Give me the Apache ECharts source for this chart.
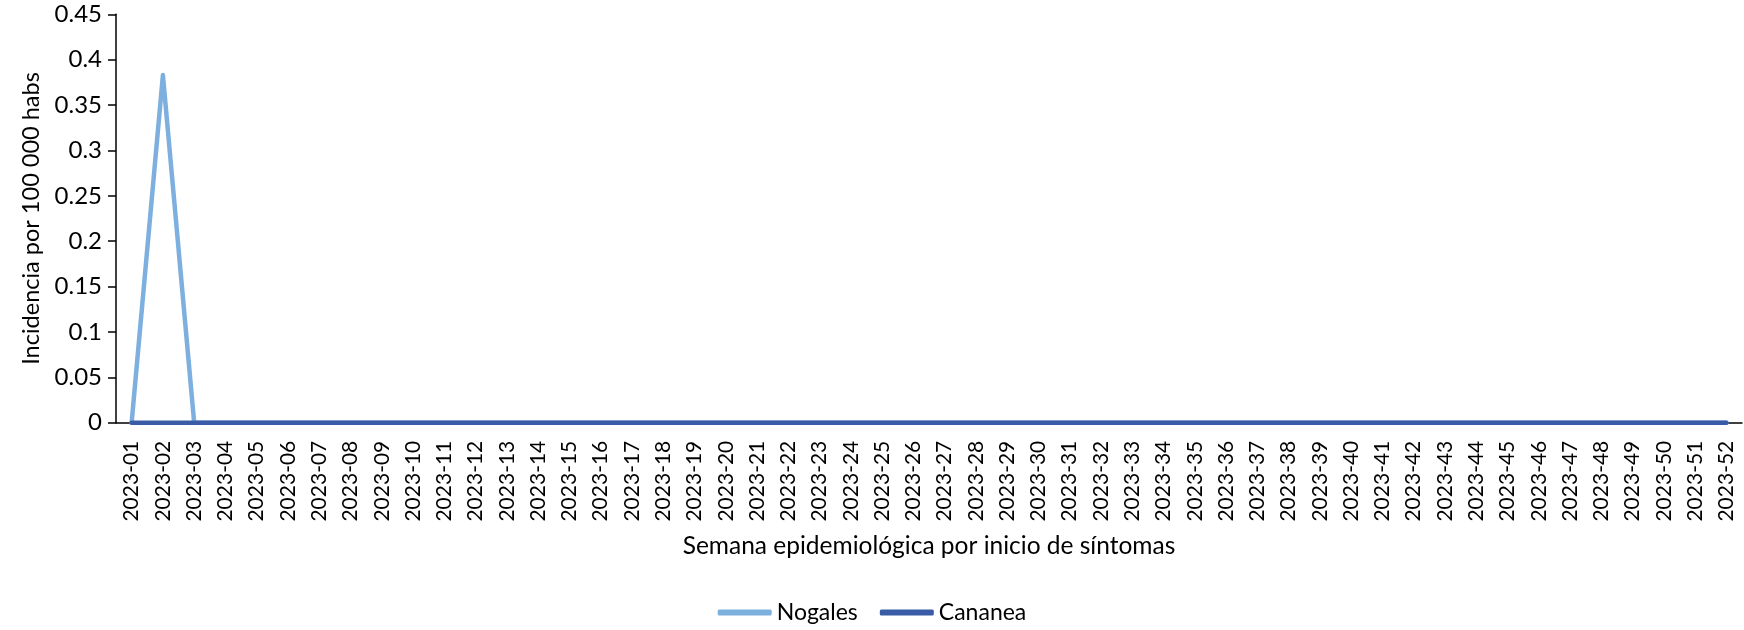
<!DOCTYPE html>
<html>
<head>
<meta charset="utf-8">
<script src="https://cdn.jsdelivr.net/npm/echarts@6/dist/echarts.min.js"></script>
<style>
html,body{margin:0;padding:0;background:#fff;}
#chart{width:1744px;height:630px;}
</style>
</head>
<body>
<div id="chart"></div>
<script>
const weeks = [];
for (let i = 1; i <= 52; i++) weeks.push('2023-' + (i < 10 ? '0' + i : '' + i));
const nogales = [0, 0.383, 0, 0, 0, 0, 0, 0, 0, 0, 0, 0, 0, 0, 0, 0, 0, 0, 0, 0, 0, 0, 0, 0, 0, 0,
                 0, 0, 0, 0, 0, 0, 0, 0, 0, 0, 0, 0, 0, 0, 0, 0, 0, 0, 0, 0, 0, 0, 0, 0, 0, 0];
const cananea = [0, 0, 0, 0, 0, 0, 0, 0, 0, 0, 0, 0, 0, 0, 0, 0, 0, 0, 0, 0, 0, 0, 0, 0, 0, 0,
                 0, 0, 0, 0, 0, 0, 0, 0, 0, 0, 0, 0, 0, 0, 0, 0, 0, 0, 0, 0, 0, 0, 0, 0, 0, 0];
const yTitle = 'Incidencia por 100 000 habs';
const xTitle = 'Semana epidemiológica por inicio de síntomas';

const FONT = 'Lato, "Open Sans", sans-serif';
const chart = echarts.init(document.getElementById('chart'), null, {renderer: 'canvas'});
chart.setOption({
  animation: false,
  textStyle: {fontFamily: FONT},
  grid: {left: 116, right: 2, top: 14.3, bottom: 207.3, containLabel: false},
  legend: {
    bottom: 1,
    left: 'center',
    itemWidth: 54,
    itemHeight: 6,
    itemGap: 22,
    icon: 'roundRect',
    textStyle: {fontFamily: FONT, fontSize: 23, color: '#000'},
    data: ['Nogales', 'Cananea']
  },
  xAxis: {
    type: 'category',
    data: weeks,
    boundaryGap: true,
    name: xTitle,
    nameLocation: 'middle',
    nameGap: 111,
    nameTextStyle: {fontFamily: FONT, fontSize: 24.5, color: '#000'},
    axisLine: {lineStyle: {color: '#000', width: 1.5}},
    axisTick: {alignWithLabel: true, length: 6, lineStyle: {color: '#000', width: 1.5}},
    axisLabel: {rotate: 90, interval: 0, fontFamily: FONT, fontSize: 21, color: '#000', margin: 18},
    splitLine: {show: false}
  },
  yAxis: {
    type: 'value',
    min: 0,
    max: 0.45,
    interval: 0.05,
    name: yTitle,
    nameLocation: 'middle',
    nameRotate: 90,
    nameGap: 72,
    nameTextStyle: {fontFamily: FONT, fontSize: 23.5, color: '#000'},
    axisLine: {show: true, lineStyle: {color: '#000', width: 1.5}},
    axisTick: {show: true, inside: false, length: 8, lineStyle: {color: '#000', width: 1.5}},
    axisLabel: {
      fontFamily: FONT, fontSize: 24, color: '#000', margin: 14,
      formatter: v => String(parseFloat(v.toFixed(2)))
    },
    splitLine: {show: false}
  },
  series: [
    {
      name: 'Nogales', type: 'line', data: nogales, symbol: 'none',
      lineStyle: {color: '#7eb0df', width: 4.5, cap: 'round', join: 'round'},
      itemStyle: {color: '#7eb0df'}
    },
    {
      name: 'Cananea', type: 'line', data: cananea, symbol: 'none',
      lineStyle: {color: '#3a5ca6', width: 4.5, cap: 'round', join: 'round'},
      itemStyle: {color: '#3a5ca6'}
    }
  ]
});
</script>
</body>
</html>
